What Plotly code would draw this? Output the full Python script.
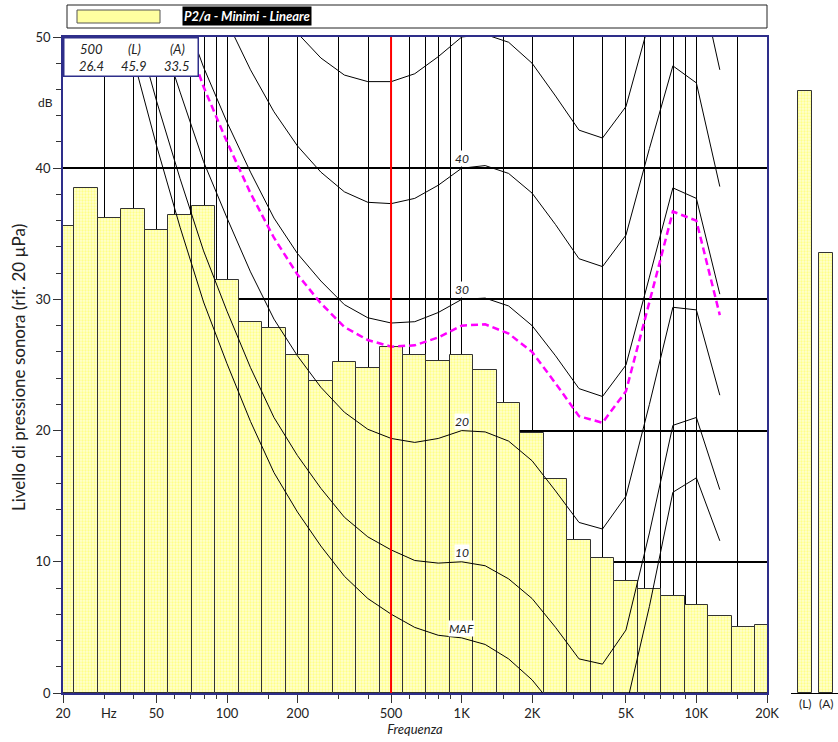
import numpy as np
import plotly.graph_objects as go

# ---------------- data ----------------
bands_hz = [20, 25, 31.5, 40, 50, 63, 80, 100, 125, 160, 200, 250, 315, 400, 500, 630,
            800, 1000, 1250, 1600, 2000, 2500, 3150, 4000, 5000, 6300, 8000, 10000,
            12500, 16000, 20000]
spectrum_db = [35.6, 38.5, 36.2, 36.9, 35.3, 36.4, 37.1, 31.5, 28.3, 27.8, 25.8, 23.8,
               25.2, 24.8, 26.4, 25.8, 25.3, 25.8, 24.6, 22.1, 19.8, 16.3, 11.7, 10.3,
               8.5, 7.9, 7.4, 6.7, 5.9, 5.0, 5.2]

contour_hz = [20, 25, 31.5, 40, 50, 63, 80, 100, 125, 160, 200, 250, 315, 400, 500, 630,
              800, 1000, 1250, 1600, 2000, 2500, 3150, 4000, 5000, 6300, 8000, 10000, 12500]
maf_db = [74.3, 65.0, 56.3, 48.4, 41.7, 35.5, 29.8, 25.1, 20.7, 16.8, 13.8, 11.2, 8.9, 7.2,
          6.0, 5.0, 4.4, 4.2, 3.7, 2.6, 1.0, -1.2, -3.6, -3.9, -1.1, 6.6, 15.3, 16.4, 11.6]
phon10_db = [76.8, 67.7, 59.2, 51.5, 45.1, 39.2, 33.7, 29.1, 24.8, 21.0, 18.1, 15.6, 13.4,
             11.9, 10.9, 10.1, 9.9, 10.0, 9.7, 8.7, 7.2, 5.0, 2.6, 2.2, 4.8, 12.2, 20.4,
             21.0, 15.5]
phon20_db = [81.3, 72.5, 64.3, 57.1, 51.2, 45.8, 40.5, 36.2, 32.1, 28.5, 25.7, 23.3, 21.4,
             20.1, 19.4, 19.1, 19.4, 20.0, 19.9, 19.2, 17.7, 15.4, 13.0, 12.5, 15.0, 22.0,
             29.4, 29.2, 22.7]
phon30_db = [86.0, 77.6, 69.7, 62.9, 57.6, 52.6, 47.7, 43.5, 39.7, 36.2, 33.5, 31.4, 29.6,
             28.6, 28.2, 28.3, 29.0, 30.0, 30.1, 29.5, 28.0, 25.7, 23.2, 22.6, 25.0, 31.7,
             38.5, 37.7, 30.4]
phon40_db = [91.0, 82.9, 75.4, 69.0, 64.3, 59.7, 55.0, 51.2, 47.5, 44.3, 41.7, 39.7, 38.2,
             37.4, 37.3, 37.7, 38.7, 40.0, 40.2, 39.6, 38.1, 35.7, 33.1, 32.5, 34.9, 41.5,
             47.8, 46.5, 38.6]
phon50_db = [96.2, 88.5, 81.3, 75.4, 71.3, 67.1, 62.7, 59.1, 55.7, 52.7, 50.3, 48.4, 47.1,
             46.6, 46.6, 47.2, 48.5, 50.0, 50.2, 49.6, 48.0, 45.5, 42.9, 42.3, 44.7, 51.2,
             57.2, 55.6, 47.5]
loudness_db = [85.1, 76.5, 68.6, 61.8, 56.3, 51.3, 46.2, 42.0, 38.1, 34.7, 31.9, 29.7, 27.9,
               26.9, 26.4, 26.5, 27.1, 28.0, 28.1, 27.4, 26.0, 23.6, 21.1, 20.6, 23.0, 29.8,
               36.7, 36.0, 28.8]
contour_labels = ["MAF", "10", "20", "30", "40"]

overall_labels = ["(L)", "(A)"]
overall_db = [45.9, 33.5]
selected_hz = 500
title_text = "P2/a - Minimi - Lineare"

x_major_hz = [20, 50, 100, 200, 500, 1000, 2000, 5000, 10000, 20000]
x_major_text = ["20", "50", "100", "200", "500", "1K", "2K", "5K", "10K", "20K"]
x_minor_hz = [30, 40, 60, 70, 80, 90, 150, 300, 400, 600, 700, 800, 900, 1500, 3000,
              4000, 6000, 7000, 8000, 9000, 15000]
y_major_db = [0, 10, 20, 30, 40, 50]

# ---------------- layout helpers ----------------
W, H = 838, 742
ML, MR, MT, MB = 63, 0, 37, 49
PW, PH = W - ML - MR, H - MT - MB


def px_x(px):
    return (px - ML) / PW


def px_y(py):
    return (H - MB - py) / PH


def band_pos(f):
    return np.round(np.log10(np.asarray(f, dtype=float)), 1)


FONT = "Lato, 'Open Sans', sans-serif"
NAVY = "#2e2e8a"
TXT = "#222222"
BAR_MARKER = dict(color="#FFFFD0", line=dict(color="#333333", width=1),
                  pattern=dict(shape=".", fgcolor="#FFFF40", size=3, solidity=0.45))

fig = go.Figure()

# spectrum bars
fig.add_trace(go.Bar(x=band_pos(bands_hz), y=spectrum_db, width=0.1,
                     marker=BAR_MARKER, xaxis="x", yaxis="y", showlegend=False))

# equal loudness contours
cx = band_pos(contour_hz)
for series in [maf_db, phon10_db, phon20_db, phon30_db, phon40_db, phon50_db]:
    fig.add_trace(go.Scatter(x=cx, y=series, mode="lines",
                             line=dict(color="black", width=1), showlegend=False,
                             xaxis="x", yaxis="y"))
fig.add_trace(go.Scatter(x=cx, y=loudness_db, mode="lines",
                         line=dict(color="#FF00FF", width=2.5, dash="7px,4px"),
                         showlegend=False, xaxis="x", yaxis="y"))

# overall bars
fig.add_trace(go.Bar(x=[0, 1], y=overall_db, width=0.67, marker=BAR_MARKER,
                     xaxis="x2", yaxis="y2", showlegend=False))

# selected band line
fig.add_shape(type="line", xref="x", yref="y domain",
              x0=np.log10(selected_hz), x1=np.log10(selected_hz), y0=0, y1=1,
              line=dict(color="#FF0000", width=2), layer="above")


def note(**kw):
    kw.setdefault("showarrow", False)
    kw.setdefault("xanchor", "center")
    kw.setdefault("yanchor", "middle")
    fig.add_annotation(**kw)


# contour labels at 1 kHz
i1k = contour_hz.index(1000)
for lab, series in zip(contour_labels, [maf_db, phon10_db, phon20_db, phon30_db, phon40_db]):
    note(x=band_pos(1000), y=series[i1k], xref="x", yref="y",
         text=f"<i>{lab}</i>", yanchor="bottom", yshift=1, bgcolor="white", borderpad=0,
         font=dict(family=FONT, size=12, color=TXT))

# info box (top-left): white box drawn as an annotation so it covers the traces
note(x=px_x(63), y=px_y(37), xref="paper", yref="paper",
     xanchor="left", yanchor="top", text=" ",
     width=133, height=37, borderpad=0, bgcolor="white",
     bordercolor=NAVY, borderwidth=1.5)
i500 = bands_hz.index(selected_hz)
info_rows = [[str(selected_hz), overall_labels[0], overall_labels[1]],
             [f"{spectrum_db[i500]:.1f}", f"{overall_db[0]:.1f}", f"{overall_db[1]:.1f}"]]
for row, py in zip(info_rows, [49, 66]):
    for txt, pxc in zip(row, [91, 134, 177]):
        note(x=px_x(pxc), y=px_y(py), xref="paper", yref="paper",
             text=f"<i>{txt}</i>", font=dict(family=FONT, size=13, color=TXT))

# legend / title box (top)
fig.add_shape(type="rect", xref="paper", yref="paper",
              x0=px_x(67), x1=px_x(767), y0=px_y(28), y1=px_y(5),
              fillcolor="white", line=dict(color="#222", width=1))
fig.add_shape(type="rect", xref="paper", yref="paper",
              x0=px_x(77), x1=px_x(160), y0=px_y(23), y1=px_y(10),
              fillcolor="#FFFFA0", line=dict(color="#555", width=1))
note(x=px_x(182), y=px_y(16), xref="paper", yref="paper",
     xanchor="left", text=f"<b><i>{title_text}</i></b>",
     bgcolor="black", borderpad=1, font=dict(family=FONT, size=13, color="white"))

# axis annotations
note(x=0, y=45, xref="paper", yref="y", xanchor="right", xshift=-8,
     text="dB", font=dict(family=FONT, size=12, color=TXT))
note(x=np.log10(31.5), y=0, xref="x", yref="paper", yanchor="top",
     yshift=-10, text="Hz", font=dict(family=FONT, size=13, color=TXT))
note(x=px_x(18), y=px_y(368), xref="paper", yref="paper",
     text="Livello di pressione sonora (rif. 20 µPa)", textangle=-90,
     font=dict(family=FONT, size=17, color=TXT))

eps = 1e-6
fig.update_layout(
    width=W, height=H, autosize=False, margin=dict(l=ML, r=MR, t=MT, b=MB),
    paper_bgcolor="white", plot_bgcolor="white", bargap=0,
    font=dict(family=FONT, size=13, color=TXT),
    xaxis=dict(domain=[0, px_x(767)], range=[np.log10(20) - eps, np.log10(20000) + eps],
               tickmode="array", tickvals=np.log10(x_major_hz), ticktext=x_major_text,
               ticks="outside", ticklen=8, tickcolor="#333",
               showgrid=True, gridcolor="black", gridwidth=1,
               minor=dict(tickmode="array", tickvals=np.log10(x_minor_hz), ticks="outside",
                          ticklen=4, tickcolor="#333", showgrid=True,
                          gridcolor="black", gridwidth=1),
               showline=True, mirror=True, linecolor=NAVY, linewidth=1.5,
               zeroline=False, anchor="y", automargin=False,
               title=dict(text="<i>Frequenza</i>", standoff=3,
                          font=dict(family=FONT, size=13, color=TXT))),
    yaxis=dict(domain=[0, 1], range=[0, 50], tickmode="array", tickvals=y_major_db,
               ticks="outside", ticklen=8, tickcolor="#333",
               showgrid=True, gridcolor="black", gridwidth=1.5,
               minor=dict(tickmode="linear", tick0=0, dtick=2, ticks="outside",
                          ticklen=5, tickcolor="#333", showgrid=False),
               showline=True, mirror=True, linecolor=NAVY, linewidth=1.5,
               zeroline=False, anchor="x", automargin=False),
    xaxis2=dict(domain=[px_x(791), 1], range=[-0.684, 1.565], tickmode="array",
                tickvals=[0, 1], ticktext=overall_labels, ticks="", showgrid=False,
                showline=True, linecolor="black", linewidth=1, zeroline=False,
                anchor="y2", automargin=False, tickfont=dict(size=12)),
    yaxis2=dict(domain=[0, 1], range=[0, 50], visible=False, anchor="x2"),
)

fig.write_html(
    "out.html",
    config={"responsive": False},
    post_script="document.documentElement.style.overflow='hidden';"
                "document.body.style.overflow='hidden';document.body.style.margin='0';",
)
